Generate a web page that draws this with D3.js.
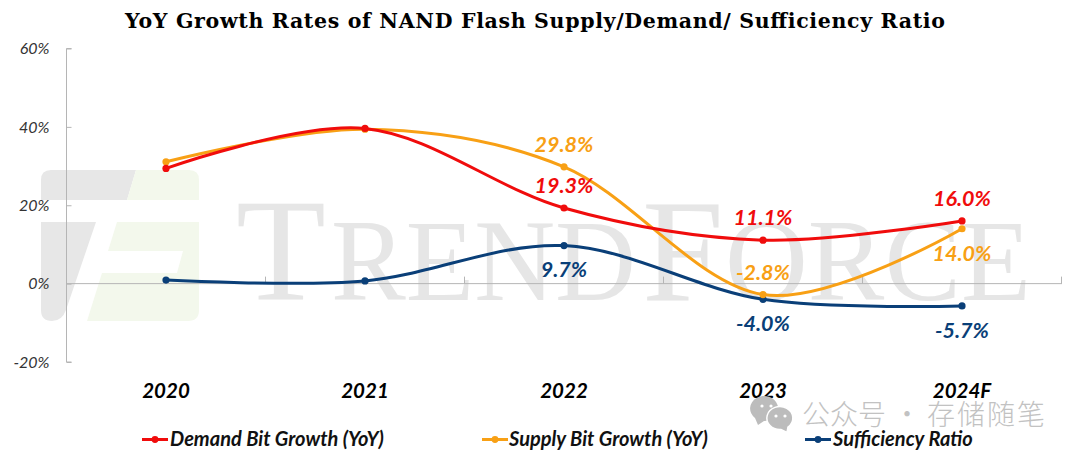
<!DOCTYPE html>
<html><head><meta charset="utf-8">
<script src="https://cdnjs.cloudflare.com/ajax/libs/d3/7.8.5/d3.min.js"></script>
<style>html,body{margin:0;padding:0;background:#fff;overflow:hidden}svg{display:block}</style>
</head><body><svg id="c" width="1080" height="459"></svg>
<script>
const categories=["2020","2021","2022","2023","2024F"];
const demand=[29.4,39.6,19.3,11.1,16.0];
const supply=[31.1,39.4,29.8,-2.8,14.0];
const sufficiency=[0.9,0.7,9.7,-4.0,-5.7];
const yTicks=[60,40,20,0,-20];
const svg=d3.select("#c");
const x=d3.scalePoint().domain(categories).range([166,962]);
const y=d3.scaleLinear().domain([-20,60]).range([362,48.5]);
const F="Lato, 'Open Sans', sans-serif";
// watermark
const wm=svg.append("g");
wm.append("path").attr("fill","#e7e7e7").attr("d","M41 180 Q41 170 51 170 H136 L127 200 H41 Z M41 222 H96 L66 310 Q62 321 52 321 Q41 321 41 310 Z");
wm.append("path").attr("fill","#f3f8ec").attr("d","M136 170 H189 Q199 170 199 180 V200 H127 Z M117 222 H199 V310 Q199 321 188 321 H87 L102 273 H177 L183 251 H108 Z");
const wmText=(t,px,size,len)=>{const e=wm.append("text").attr("x",px).attr("y",300).attr("font-family","'Liberation Serif',serif").attr("font-size",size).attr("fill","#e6e6e6").text(t);
 if(len)e.attr("textLength",len).attr("lengthAdjust","spacingAndGlyphs");};
wmText("T",236,147);
wmText("REND",331,117,305);
wmText("F",642,147);
wmText("ORCE",725,117,306);
// axes
const ax="#b5b5b5";
const yAxis=d3.axisLeft(y).tickValues(yTicks).tickSize(-5).tickFormat(d=>d+"%");
const gy=svg.append("g").attr("transform","translate(66.5,0)").call(yAxis);
gy.selectAll("path,line").attr("stroke",ax).attr("stroke-width",1);
gy.select(".domain").attr("d",`M5,${y(60)}H0V${y(-20)}H5`);
gy.selectAll("text").attr("x",-17).attr("dy",".32em").attr("font-family",F).attr("font-style","italic").attr("font-size",16).attr("fill","#333");
const gx=svg.append("g").attr("transform",`translate(0,${y(0)})`);
gx.append("line").attr("x1",66.5).attr("x2",1062).attr("stroke",ax);
const step=x.step();
gx.selectAll(".t").data(d3.range(0,5)).join("line").attr("x1",d=>x(categories[d])+step/2).attr("x2",d=>x(categories[d])+step/2).attr("y1",0).attr("y2",-7).attr("stroke",ax);
svg.append("g").selectAll("text").data(categories).join("text").attr("x",d=>x(d)).attr("y",398).attr("text-anchor","middle")
 .attr("font-family",F).attr("font-style","italic").attr("font-weight",700).attr("font-size",20.5).attr("fill","#000").text(d=>d);
// title
svg.append("text").attr("x",535).attr("y",28).attr("text-anchor","middle").attr("font-family","'DejaVu Serif',serif").attr("font-weight",700)
 .attr("font-size",20.5).attr("textLength",820).attr("lengthAdjust","spacing").attr("fill","#000").text("YoY Growth Rates of NAND Flash Supply/Demand/ Sufficiency Ratio");
// series
const series=[
 {name:"Demand Bit Growth (YoY)",vals:demand,color:"#f00c0c"},
 {name:"Supply Bit Growth (YoY)",vals:supply,color:"#f8a015"},
 {name:"Sufficiency Ratio",vals:sufficiency,color:"#0a3f78"}];
const line=d3.line().x((d,i)=>x(categories[i])).y(d=>y(d)).curve(d3.curveCardinal.tension(0));
series.slice().reverse().forEach(s=>{
 const g=svg.append("g");
 g.append("path").attr("d",line(s.vals)).attr("fill","none").attr("stroke",s.color).attr("stroke-width",3);
 g.selectAll("circle").data(s.vals).join("circle").attr("cx",(d,i)=>x(categories[i])).attr("cy",d=>y(d)).attr("r",3.6).attr("fill",s.color);
});
// data labels
function labels(vals,color,offs){
 svg.append("g").selectAll("text").data(vals.map((v,i)=>({v,i})).filter(d=>offs[d.i])).join("text")
 .attr("x",d=>x(categories[d.i])+offs[d.i][0]).attr("y",d=>y(d.v)+offs[d.i][1]).attr("text-anchor","middle")
 .attr("font-family",F).attr("font-style","italic").attr("font-weight",700).attr("font-size",21.5).attr("fill",color)
 .text(d=>d.v.toFixed(1)+"%");
}
labels(demand,"#f00c0c",[null,null,[0,-15],[0,-15],[0,-15]]);
labels(supply,"#f8a015",[null,null,[0,-15],[0,-15],[0,32]]);
labels(sufficiency,"#0a3f78",[null,null,[0,31],[0,32],[0,32]]);
// wechat mark
const wc=svg.append("g");
wc.append("path").attr("fill","#bcbcbc").attr("d","M755 418 a14 12.5 0 1 1 9 3 l-6 4 Z");
wc.append("path").attr("fill","#bcbcbc").attr("stroke","#fff").attr("stroke-width",1.5).attr("d","M788 427 a13 11.5 0 1 0 -7 2.5 l6 3 Z");
[[762,406],[771,406],[776,416],[785,416]].forEach(p=>wc.append("circle").attr("cx",p[0]).attr("cy",p[1]).attr("r",1.6).attr("fill","#fff"));
const wt=svg.append("text").attr("y",425).attr("font-family","'Noto Sans CJK SC'").attr("font-size",28).attr("font-weight",300).attr("fill","#c2c2c2");
wt.append("tspan").attr("x",802).text("公众号");
wt.append("tspan").attr("x",893).text("·");
wt.append("tspan").attr("x",927).attr("dx",0).text("存储随笔").attr("textLength",118);
// legend
const lg=[{x:142,tx:170},{x:482,tx:509},{x:805,tx:833}];
series.forEach((s,i)=>{
 const g=svg.append("g");
 g.append("line").attr("x1",lg[i].x).attr("x2",lg[i].x+26).attr("y1",439.5).attr("y2",439.5).attr("stroke",s.color).attr("stroke-width",3);
 g.append("circle").attr("cx",lg[i].x+13).attr("cy",439.5).attr("r",3.4).attr("fill",s.color);
 g.append("text").attr("x",lg[i].tx).attr("y",445.5).attr("font-family",F).attr("font-style","italic").attr("font-weight",700).attr("font-size",20).attr("fill","#111").text(s.name);
});
</script></body></html>
